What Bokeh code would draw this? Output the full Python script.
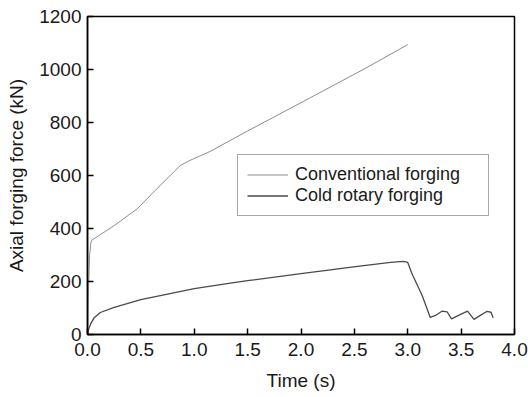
from bokeh.plotting import figure
from bokeh.models import Range1d, FixedTicker, Legend, LegendItem, NumeralTickFormatter
from bokeh.embed import file_html
from bokeh.resources import INLINE

# Conventional forging
conv_t = [0.0, 0.01, 0.02, 0.03, 0.037, 0.25, 0.465, 0.65, 0.87, 0.96, 1.15, 1.5, 2.09, 2.62, 3.0]
conv_f = [0, 180, 300, 340, 355, 411, 474, 550, 638, 657, 691, 768, 894, 1008, 1094]

# Cold rotary forging
cold_t = [0.0, 0.01, 0.03, 0.06, 0.12, 0.25, 0.5, 1.0, 1.37, 1.5, 2.0, 2.53, 2.84, 2.96, 3.0,
          3.04, 3.135, 3.21, 3.26, 3.32, 3.37, 3.41, 3.49, 3.56, 3.62, 3.68, 3.74, 3.78, 3.80]
cold_f = [0, 20, 40, 62, 83, 102, 132, 173, 196, 203, 230, 257, 272, 276, 272,
          229, 147, 65, 72, 88, 85, 59, 75, 88, 57, 72, 87, 84, 63]

x_ticks = [0.0, 0.5, 1.0, 1.5, 2.0, 2.5, 3.0, 3.5, 4.0]
y_ticks = [0, 200, 400, 600, 800, 1000, 1200]

FONT = "Liberation Sans"
TXT = "#1a1a1a"

p = figure(width=528, height=397, output_backend="svg", toolbar_location=None,
           x_range=Range1d(0, 4), y_range=Range1d(0, 1200),
           min_border_left=87, min_border_right=14, min_border_top=16, min_border_bottom=63)
p.background_fill_color = "white"
p.border_fill_color = "white"
p.grid.visible = False
p.outline_line_color = "black"
p.outline_line_width = 1.5
p.outline_line_alpha = 1.0

r1 = p.line(conv_t, conv_f, line_color="#8c8c8c", line_width=1)
r2 = p.line(cold_t, cold_f, line_color="#4a4a4a", line_width=1.3)

for ax in (p.xaxis[0], p.yaxis[0]):
    ax.axis_line_color = "black"
    ax.axis_line_width = 1.5
    ax.major_tick_in = 6
    ax.major_tick_out = 0
    ax.major_tick_line_color = "black"
    ax.major_tick_line_width = 1.5
    ax.minor_tick_line_color = None
    ax.major_label_text_font = FONT
    ax.major_label_text_font_size = "19px"
    ax.major_label_text_color = TXT
    ax.axis_label_text_font = FONT
    ax.axis_label_text_font_size = "19px"
    ax.axis_label_text_font_style = "normal"
    ax.axis_label_text_color = TXT

p.xaxis.ticker = FixedTicker(ticks=x_ticks)
p.xaxis.formatter = NumeralTickFormatter(format="0.0")
p.xaxis.major_label_standoff = 8
p.xaxis.axis_label = "Time (s)"
p.xaxis.axis_label_standoff = 11

p.yaxis.ticker = FixedTicker(ticks=y_ticks)
p.yaxis.major_label_standoff = 6
p.yaxis.axis_label = "Axial forging force (kN)"
p.yaxis.axis_label_standoff = 9

legend = Legend(items=[LegendItem(label="Conventional forging", renderers=[r1]),
                       LegendItem(label="Cold rotary forging", renderers=[r2])],
                location=(150, 118))
legend.label_text_font = FONT
legend.label_text_font_size = "18px"
legend.label_text_color = TXT
legend.border_line_color = "#555555"
legend.border_line_width = 1
legend.background_fill_alpha = 1.0
legend.padding = 9
legend.spacing = 0
legend.glyph_width = 41
legend.glyph_height = 15
legend.label_height = 15
legend.label_standoff = 7
legend.label_width = 184
legend.margin = 0
p.add_layout(legend, "center")

open("out.html", "w").write(file_html(p, INLINE))
